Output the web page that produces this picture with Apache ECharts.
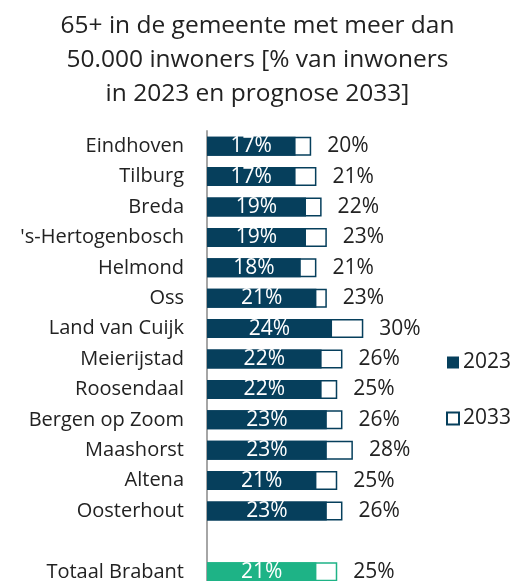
<!DOCTYPE html>
<html>
<head>
<meta charset="utf-8">
<script src="https://cdn.jsdelivr.net/npm/echarts@6/dist/echarts.min.js"></script>
<style>
  html, body { margin: 0; padding: 0; background: #fff; }
  #chart { width: 515px; height: 581px; }
</style>
</head>
<body>
<div id="chart"></div>
<script>
// Gemeenten (lege regel scheidt het provinciale totaal)
const gemeenten = ['Eindhoven', 'Tilburg', 'Breda', "'s-Hertogenbosch", 'Helmond', 'Oss',
  'Land van Cuijk', 'Meierijstad', 'Roosendaal', 'Bergen op Zoom', 'Maashorst', 'Altena',
  'Oosterhout', '', 'Totaal Brabant'];
// Aandeel 65+ in procenten
const waarden2023 = [17, 17, 19, 19, 18, 21, 24, 22, 22, 23, 23, 21, 23, null, 21];
const waarden2033 = [20, 21, 22, 23, 21, 23, 30, 26, 25, 26, 28, 25, 26, null, 25];
const totaalNaam = 'Totaal Brabant';

const DONKER = '#063f5c';
const GROEN = '#1eb386';
const FONT = 'Open Sans';

const chart = echarts.init(document.getElementById('chart'));

const data2023 = waarden2023.map((v, i) => gemeenten[i] === totaalNaam
  ? { value: v, itemStyle: { color: GROEN } }
  : v);
const data2033 = waarden2033.map((v, i) => gemeenten[i] === totaalNaam
  ? { value: v, itemStyle: { borderColor: GROEN } }
  : v);

chart.setOption({
  animation: false,
  textStyle: { fontFamily: FONT },
  title: {
    text: '65+ in de gemeente met meer dan\n50.000 inwoners [% van inwoners\nin 2023 en prognose 2033]',
    left: 'center',
    top: 4,
    textStyle: { fontFamily: FONT, fontSize: 24.5, fontWeight: 'normal', color: '#222', lineHeight: 34 }
  },
  legend: {
    orient: 'vertical',
    left: 441,
    top: 347,
    itemWidth: 12,
    itemHeight: 12,
    itemGap: 35,
    icon: 'rect',
    data: ['2023', '2033'],
    textStyle: { fontFamily: FONT, fontSize: 21, color: '#222', lineHeight: 20, padding: [0, 0, 0, -1] }
  },
  grid: { left: 207, top: 131, width: 260.5, height: 456, outerBoundsMode: 'none' },
  xAxis: {
    type: 'value', min: 0, max: 50,
    show: false
  },
  yAxis: {
    type: 'category',
    inverse: true,
    data: gemeenten,
    axisLine: { show: true, lineStyle: { color: '#a6a6a6', width: 2 } },
    axisTick: { show: false },
    axisLabel: { margin: 23, fontFamily: FONT, fontSize: 20, color: '#222' }
  },
  series: [
    {
      name: '2033',
      type: 'bar',
      data: data2033,
      barWidth: 19,
      barGap: '-100%',
      itemStyle: { color: '#fff', borderColor: DONKER, borderWidth: 1.5 },
      label: {
        show: true, position: 'right', distance: 16,
        formatter: '{c}%', fontFamily: FONT, fontSize: 21, color: '#222'
      }
    },
    {
      name: '2023',
      type: 'bar',
      data: data2023,
      barWidth: 19,
      itemStyle: { color: DONKER },
      label: {
        show: true, position: 'inside',
        formatter: '{c}%', fontFamily: FONT, fontSize: 21, color: '#fff'
      }
    }
  ]
});
</script>
</body>
</html>
